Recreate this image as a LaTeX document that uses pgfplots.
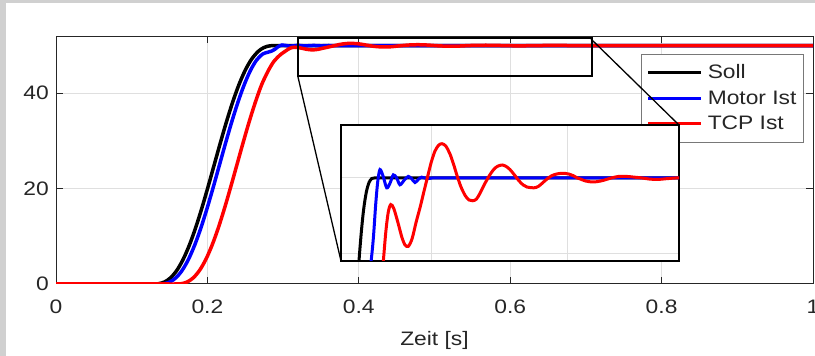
\documentclass[border=0pt]{standalone}
\usepackage{pgfplots}
\pgfplotsset{compat=1.18}
\usepackage{pgfplotstable}
\usepackage{fontspec}
\setmainfont{Liberation Sans}[FakeStretch=1.17]
\definecolor{axgray}{RGB}{38,38,38}
\definecolor{gridgray}{RGB}{223,223,223}
\definecolor{leggray}{RGB}{120,120,120}
\definecolor{bggray}{RGB}{208,208,208}
\definecolor{mblue}{RGB}{0,0,255}
\definecolor{mred}{RGB}{255,0,0}

\pgfplotstableread{
t v
0 0
0.05 0
0.1 0
0.110 0
0.1188 0
0.127 0
0.1352 0.058
0.1434 0.428
0.1516 1.331
0.1598 2.896
0.168 5.176
0.1762 8.154
0.1844 11.758
0.1926 15.872
0.2008 20.344
0.209 25.000
0.2172 29.656
0.2254 34.128
0.2336 38.242
0.2418 41.846
0.250 44.824
0.2582 47.104
0.2664 48.669
0.2705 49.197
0.2746 49.572
0.2787 49.812
0.2828 49.942
0.2869 49.993
0.291 50.000
0.2951 50.000
0.300 50
0.308 50
0.32 50
0.34 50
0.37 50
0.42 50
0.5 50
0.6 50
0.7 50
0.8 50
0.9 50
1.0 50
}\soll

\pgfplotstableread{
t v
0 0
0.05 0
0.1 0
0.117 0
0.1258 0
0.134 0
0.1422 0.058
0.1504 0.428
0.1586 1.331
0.1668 2.896
0.175 5.176
0.1832 8.154
0.1914 11.758
0.1996 15.872
0.2078 20.344
0.216 25.000
0.2242 29.656
0.2324 34.128
0.2406 38.242
0.2488 41.846
0.257 44.824
0.2652 47.00
0.2734 48.25
0.2800 48.60
0.2850 48.85
0.2890 49.20
0.2925 49.65
0.2955 49.95
0.2988 50.11
0.3035 50.02
0.3087 49.87
0.3135 49.93
0.3184 50.04
0.3233 50.00
0.3282 49.91
0.3343 49.97
0.3404 50.02
0.3453 49.99
0.3503 49.94
0.3552 49.98
0.3601 50.01
0.368 49.99
0.376 50.00
0.39 50
0.42 50
0.46 50
0.5 50
0.6 50
0.7 50
0.8 50
0.9 50
1.0 50
}\motor

\pgfplotstableread{
t v
0 0
0.05 0
0.1 0
0.130 0
0.140 0
0.1488 0
0.157 0
0.1652 0.058
0.1734 0.428
0.1816 1.331
0.1898 2.896
0.198 5.176
0.2062 8.154
0.2144 11.758
0.2226 15.872
0.2308 20.344
0.239 25.000
0.2472 29.656
0.2554 34.128
0.2636 38.242
0.2718 41.846
0.280 44.60
0.2875 46.60
0.2955 47.95
0.3000 48.50
0.3037 48.90
0.3075 49.30
0.311 49.55
0.3146 49.65
0.319 49.60
0.325 49.42
0.331 49.22
0.3355 49.12
0.3404 49.10
0.346 49.20
0.352 49.42
0.358 49.62
0.3634 49.82
0.3684 50.00
0.374 50.20
0.3795 50.35
0.385 50.43
0.390 50.45
0.3955 50.42
0.4015 50.32
0.407 50.18
0.4125 50.02
0.418 49.88
0.424 49.77
0.4295 49.71
0.435 49.70
0.4405 49.72
0.446 49.80
0.4515 49.90
0.457 49.99
0.4625 50.07
0.468 50.13
0.4735 50.16
0.4792 50.17
0.4845 50.15
0.490 50.11
0.4965 50.04
0.5025 49.97
0.509 49.91
0.515 49.88
0.5252 49.87
0.532 49.89
0.5385 49.94
0.545 49.99
0.5515 50.03
0.558 50.05
0.5645 50.06
0.5708 50.06
0.577 50.05
0.583 50.03
0.589 50.00
0.595 49.98
0.601 49.96
0.607 49.95
0.6174 49.95
0.628 49.97
0.639 50.00
0.650 50.02
0.6615 50.02
0.673 50.01
0.684 50.00
0.695 49.985
0.7075 49.98
0.720 49.99
0.735 50.00
0.750 50
0.8 50
0.9 50
1.0 50
}\tcp

\begin{document}
\fontsize{19.5}{23}\selectfont
\begin{tikzpicture}
\fill[bggray] (0pt,0pt) rectangle (815pt,356pt);
\fill[white] (6pt,0pt) rectangle (815pt,353pt);
\begin{axis}[
  at={(56pt,72pt)}, anchor=south west, scale only axis,
  width=757pt, height=248pt,
  xmin=0, xmax=1, ymin=0, ymax=52,
  xtick={0,0.2,0.4,0.6,0.8,1}, xticklabels={0,0.2,0.4,0.6,0.8,1},
  ytick={0,20,40}, yticklabels={0,20,40},
  grid=major, major grid style={draw=gridgray, line width=1pt},
  axis line style={draw=axgray, line width=1pt},
  every tick/.style={draw=axgray, line width=1pt},
  tick align=inside, major tick length=7pt,
  font=\fontsize{19.5}{23}\selectfont,
  xticklabel style={anchor=north, inner sep=0pt, yshift=-16pt, text=axgray},
  yticklabel style={anchor=east, inner sep=0pt, xshift=-7pt, text=axgray},
  xlabel={Zeit [s]},
  xlabel style={at={(axis description cs:0.5,0)}, anchor=north, inner sep=0pt, yshift=-47pt, text=axgray},
  legend style={at={(0.7728,0.9274)}, anchor=north west, draw=leggray, line width=1pt, fill=white, text=axgray, inner xsep=5pt, inner ysep=5.5pt, row sep=0pt, nodes={inner sep=2pt, text height=16.5pt, text depth=5pt}},
  legend cell align=left,
  legend image code/.code={\draw[#1, line width=3pt] (0pt,0pt) -- (53pt,0pt); \path (56pt,0pt);},
]
\addplot[black, line width=3.5pt, smooth] table[x=t,y=v] {\soll};
\addplot[mblue, line width=3.5pt, smooth] table[x=t,y=v] {\motor};
\addplot[mred, line width=3.5pt, smooth] table[x=t,y=v] {\tcp};
\legend{Soll, Motor Ist, TCP Ist}
\draw[line width=2pt] (axis cs:0.320,43.6) rectangle (axis cs:0.708,51.6);
\end{axis}
\begin{axis}[
  at={(341pt,95pt)}, anchor=south west, scale only axis,
  width=338pt, height=136pt,
  xmin=0.2415, xmax=0.7385, ymin=48.908, ymax=50.697,
  xtick={0.3753,0.5752}, ytick={49,50},
  xticklabels={}, yticklabels={},
  major tick length=0pt,
  grid=major, major grid style={draw=gridgray, line width=1pt},
  axis background/.style={fill=white},
  axis line style={draw=black, line width=2pt},
]
\addplot[black, line width=3pt, smooth] table[x=t,y=v] {\soll};
\addplot[mblue, line width=3pt, smooth] table[x=t,y=v] {\motor};
\addplot[mred, line width=3pt, smooth] table[x=t,y=v] {\tcp};
\end{axis}
\draw[line width=1.3pt] (298pt,279pt) -- (341pt,95pt);
\draw[line width=1.3pt] (591pt,317pt) -- (679pt,231pt);
\pgfresetboundingbox
\path (0pt,0pt) rectangle (815pt,356pt);
\end{tikzpicture}
\end{document}
